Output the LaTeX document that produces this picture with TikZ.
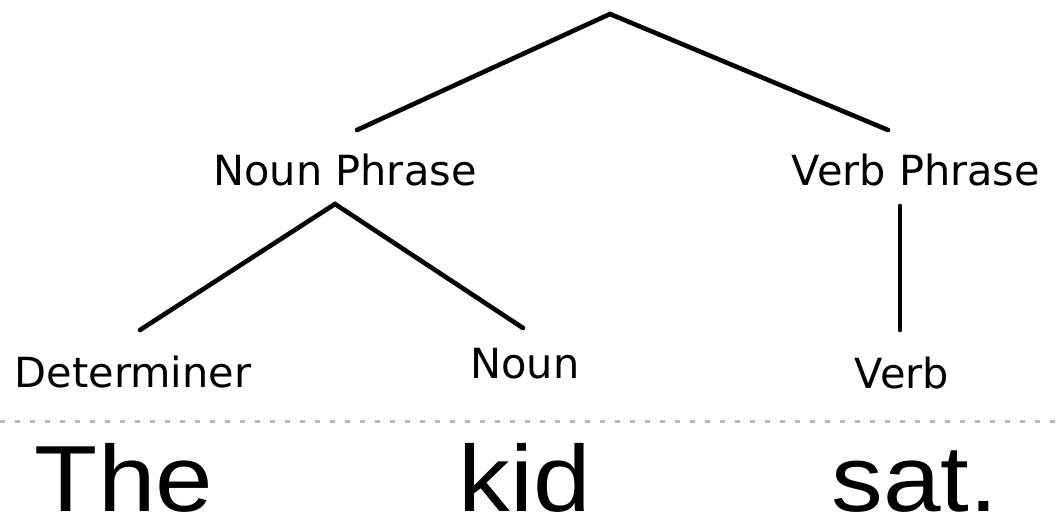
\documentclass[tikz,border=0pt]{standalone}
\usepackage{fontspec}
\newfontfamily\labelfont{DejaVu Sans}
\newfontfamily\wordfont{Liberation Sans}
\begin{document}
\begin{tikzpicture}[x=1pt,y=-1pt,
  branch/.style={line width=4.6pt, line cap=round},
  cat/.style={font=\labelfont\fontsize{41.5}{48}\selectfont, anchor=base, inner sep=0pt},
  word/.style={font=\wordfont\fontsize{94}{110}\selectfont, anchor=base, inner sep=0pt, text depth=0pt},
  divider/.style={line width=3pt, draw=black!28, dash pattern=on 5pt off 10pt}]
  \useasboundingbox[fill=white] (0,0) rectangle (1062,519);

  % category labels
  \node[cat] (np)  at (345,185) {Noun Phrase};
  \node[cat] (vp)  at (916,185) {Verb Phrase};
  \node[cat] (det) at (133,387) {Determiner};
  \node[cat] (n)   at (525,378) {Noun};
  \node[cat] (v)   at (902,388) {Verb};

  % the sentence
  \node[word] (the) at (124,511) {\scalebox{1.1}[1]{The}};
  \node[word] (kid) at (525,511) {\scalebox{1.1}[1]{kid}};
  \node[word] (sat) at (915,511) {\scalebox{1.1}[1]{sat.}};

  % branch end points
  \coordinate (s)    at (610,14);
  \coordinate (s-np) at (357,130);
  \coordinate (s-vp) at (888,130);
  \coordinate (np-top) at (335,204);
  \coordinate (np-det) at (140,330);
  \coordinate (np-n)   at (523,328);
  \coordinate (vp-top) at (900,206);
  \coordinate (vp-v)   at (900,330);
  \coordinate (rule-l) at (0,421);
  \coordinate (rule-r) at (1062,421);

  % tree
  \draw[branch] (s-np) -- (s) -- (s-vp);
  \draw[branch] (np-det) -- (np-top) -- (np-n);
  \draw[branch] (vp-top) -- (vp-v);

  % dotted rule between the tree and the words
  \draw[divider] (rule-l) -- (rule-r);
\end{tikzpicture}
\end{document}
